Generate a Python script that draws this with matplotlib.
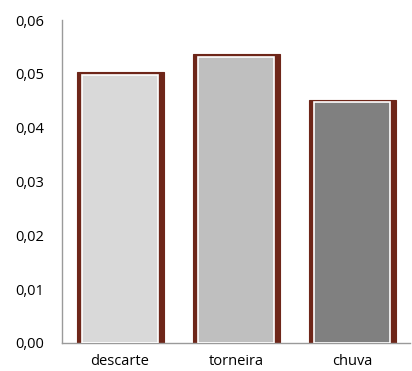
import matplotlib
matplotlib.use("Agg")
import matplotlib.pyplot as plt
from matplotlib.ticker import FuncFormatter

categories = ["descarte", "torneira", "chuva"]
values = [0.0503, 0.0537, 0.0452]
fill_colors = ["#D9D9D9", "#BFBFBF", "#808080"]
yticks = [0.00, 0.01, 0.02, 0.03, 0.04, 0.05, 0.06]

dark = "#6E2619"
axis_col = "#9A9A9A"

plt.rcParams['font.family'] = ['Open Sans', 'DejaVu Sans']
fig = plt.figure(figsize=(4.12, 3.71), dpi=100)
ax = fig.add_axes([62/412, 28/371, 348/412, 323/371])

x = list(range(len(categories)))
ax.bar(x, values, width=0.75, color=dark, edgecolor=dark, linewidth=0.8, zorder=2)
inner = [v - 0.0005 for v in values]
ax.bar(x, inner, width=0.655, color=fill_colors, edgecolor="white", linewidth=1.2, zorder=3)

ax.set_xlim(-0.5, 2.5)
ax.set_ylim(0, 0.06)
ax.set_yticks(yticks)
ax.yaxis.set_major_formatter(FuncFormatter(lambda v, p: f"{v:.2f}".replace(".", ",")))
ax.set_xticks(x)
ax.set_xticklabels(categories)
ax.tick_params(axis='both', length=0, labelsize=10.5, colors="black")
ax.tick_params(axis='y', pad=13)
ax.tick_params(axis='x', pad=8)
for s in ["top", "right"]:
    ax.spines[s].set_visible(False)
for s in ["left", "bottom"]:
    ax.spines[s].set_color(axis_col)
    ax.spines[s].set_linewidth(1)

fig.savefig("out.png", dpi=100, facecolor="white")
